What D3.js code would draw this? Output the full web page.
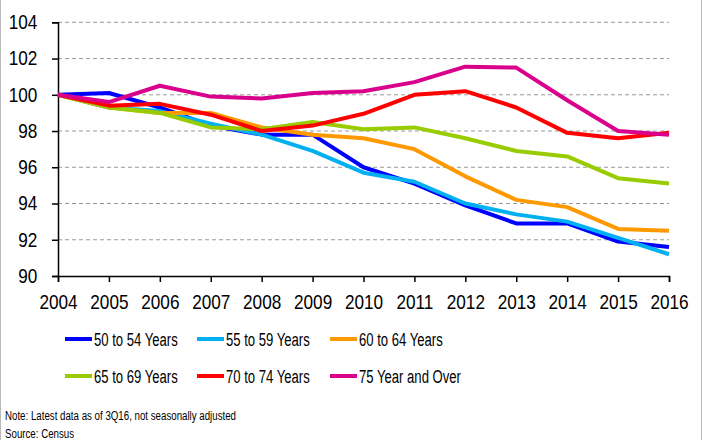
<!DOCTYPE html>
<html>
<head>
<meta charset="utf-8">
<script src="https://cdn.jsdelivr.net/npm/d3@7"></script>
<style>
  body { margin: 0; background: #fff; }
  svg { display: block; font-family: "Liberation Sans", Arial, sans-serif; }
</style>
</head>
<body>
<div id="chart"></div>
<script>
// datos (indice 2004 = 100)
const years = [2004, 2005, 2006, 2007, 2008, 2009, 2010, 2011, 2012, 2013, 2014, 2015, 2016];
const yTicks = [90, 92, 94, 96, 98, 100, 102, 104];
const seriesNames = ["50 to 54 Years", "55 to 59 Years", "60 to 64 Years", "65 to 69 Years", "70 to 74 Years", "75 Year and Over"];
const seriesColors = ["#0000FF", "#00B0F0", "#FF9900", "#99CC00", "#FF0000", "#D9008C"];

const age50 = [100, 100.1, 99.3, 98.3, 97.8, 97.8, 96.0, 95.1, 93.9, 92.9, 92.9, 91.9, 91.6];
const age55 = [100, 99.3, 99.1, 98.4, 97.8, 96.9, 95.7, 95.2, 94.0, 93.4, 93.0, 92.1, 91.2];
const age60 = [100, 99.3, 99.0, 99.0, 98.2, 97.8, 97.6, 97.0, 95.5, 94.2, 93.8, 92.6, 92.5];
const age65 = [100, 99.3, 99.0, 98.2, 98.1, 98.5, 98.1, 98.2, 97.6, 96.9, 96.6, 95.4, 95.1];
const age70 = [100, 99.4, 99.5, 98.9, 98.0, 98.3, 98.95, 100.0, 100.2, 99.3, 97.9, 97.6, 97.9];
const age75 = [100, 99.6, 100.5, 99.9, 99.8, 100.1, 100.2, 100.7, 101.55, 101.5, 99.7, 98.0, 97.8];
const seriesValues = [age50, age55, age60, age65, age70, age75];

const width = 703, height = 440;
const svg = d3.select("#chart").append("svg").attr("width", width).attr("height", height);

// borde del recuadro
svg.append("line").attr("x1", 0.5).attr("x2", 0.5).attr("y1", 0).attr("y2", height).attr("stroke", "#bbb");
svg.append("line").attr("x1", 701.5).attr("x2", 701.5).attr("y1", 0).attr("y2", height).attr("stroke", "#bbb");

const x = d3.scaleLinear().domain([2004, 2016]).range([58, 669]);
const y = d3.scaleLinear().domain([90, 104]).range([276, 22.3]);

// rejilla discontinua
svg.append("g")
  .selectAll("line")
  .data(yTicks.filter(d => d > 90))
  .join("line")
  .attr("x1", x(2004)).attr("x2", x(2016))
  .attr("y1", d => y(d)).attr("y2", d => y(d))
  .attr("stroke", "#9a9a9a")
  .attr("stroke-width", 1)
  .attr("stroke-dasharray", "4,3");

// eje y
const yAxis = svg.append("g")
  .attr("transform", `translate(${x(2004)},0)`)
  .call(d3.axisLeft(y).tickValues(yTicks).tickSize(6).tickPadding(18).tickFormat(d3.format("d")));
yAxis.select(".domain").attr("stroke", "#000").attr("stroke-width", 1.5);
yAxis.selectAll(".tick line").attr("stroke", "#000").attr("stroke-width", 1.5);
yAxis.selectAll("text").attr("font-size", 20).attr("fill", "#000").attr("font-family", null)
  .attr("transform", "scale(0.86,1)");

// eje x
const xAxis = svg.append("g")
  .attr("transform", `translate(0,${y(90)})`)
  .call(d3.axisBottom(x).tickValues(years).tickSize(6).tickPadding(13).tickFormat(d3.format("d")));
xAxis.select(".domain").attr("stroke", "#000").attr("stroke-width", 1.5);
xAxis.selectAll(".tick line").attr("stroke", "#000").attr("stroke-width", 1.5);
xAxis.selectAll("text").attr("font-size", 20).attr("fill", "#000").attr("font-family", null)
  .attr("transform", "scale(0.86,1)");

// lineas de las series
const line = d3.line().x((d, i) => x(years[i])).y(d => y(d));
svg.append("g")
  .selectAll("path")
  .data(seriesValues)
  .join("path")
  .attr("d", line)
  .attr("fill", "none")
  .attr("stroke", (d, i) => seriesColors[i])
  .attr("stroke-width", 4)
  .attr("stroke-linejoin", "round");

// leyenda (3 columnas, 2 filas)
const legendX = [65, 197, 330];
const legendY = [339, 376];
const legend = svg.append("g")
  .selectAll("g")
  .data(seriesNames)
  .join("g")
  .attr("transform", (d, i) => `translate(${legendX[i % 3]},${legendY[Math.floor(i / 3)]})`);
legend.append("line")
  .attr("x1", 0).attr("x2", 27).attr("y1", 0).attr("y2", 0)
  .attr("stroke", (d, i) => seriesColors[i])
  .attr("stroke-width", 4);
legend.append("text")
  .attr("transform", "translate(29,7) scale(0.69,1)")
  .attr("font-size", 19)
  .text(d => d);

// notas
svg.append("text").attr("transform", "translate(5,420) scale(0.72,1)").attr("font-size", 13.5)
  .text("Note: Latest data as of 3Q16, not seasonally adjusted");
svg.append("text").attr("transform", "translate(5,438) scale(0.72,1)").attr("font-size", 13.5)
  .text("Source: Census");
</script>
</body>
</html>
